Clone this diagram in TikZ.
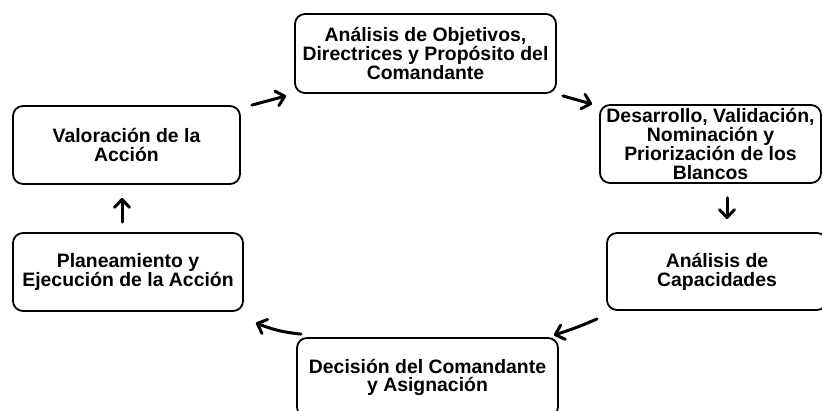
\documentclass[tikz,border=0pt]{standalone}
\usepackage{fontspec}
\setmainfont{Liberation Sans}
\usetikzlibrary{arrows.meta,calc}
\begin{document}
\begin{tikzpicture}[x=1pt,y=-1pt,
  box/.style={draw=black, line width=1.8pt, rounded corners=10pt, fill=white,
    align=center, inner sep=0pt,
    font=\fontsize{19.4}{18.8}\selectfont\bfseries},
  arr/.style={line width=3pt, line cap=round,
    -{Straight Barb[length=8pt,width=15pt,line cap=round,line join=round]}}]
\useasboundingbox (0,0) rectangle (822,410);
\clip (0,0) rectangle (822,410);
\fill[white] (0,0) rectangle (822,410);
\node[box, minimum width=261pt, minimum height=79pt] (top) at (425.5,53.5)
  {Análisis de Objetivos,\\Directrices y Propósito del\\Comandante};
\node[box, minimum width=221pt, minimum height=78pt] (des) at (710.5,144)
  {Desarrollo, Validación,\\Nominación y\\Priorización de los\\Blancos};
\node[box, minimum width=220pt, minimum height=77pt] (anal) at (717,271.5)
  {Análisis de\\Capacidades};
\node[box, minimum width=261pt, minimum height=79pt] (dec) at (427.5,377.5)
  {Decisión del Comandante\\y Asignación};
\node[box, minimum width=230pt, minimum height=78pt] (plan) at (128,272)
  {Planeamiento y\\Ejecución de la Acción};
\node[box, minimum width=227pt, minimum height=78pt] (val) at (126.5,145)
  {Valoración de la\\Acción};
\draw[arr] ([shift={(11,0)}]val.north east) -- ([shift={(-8,2)}]top.south west);
\draw[arr] ([shift={(6,2)}]top.south east) -- ([shift={(-7,0)}]des.north west);
\draw[arr] ([shift={(16.5,14)}]des.south) -- ([shift={(10,-13)}]anal.north);
\draw[arr] ([shift={(-9,8)}]anal.south west) to[bend left=3] ([shift={(-5,-2)}]dec.north east);
\draw[arr] ([shift={(5,-3)}]dec.north west) to[bend left=8] ([shift={(12,11)}]plan.south east);
\draw[arr] ([shift={(-6,-10)}]plan.north) -- ([shift={(-4.5,13)}]val.south);
\end{tikzpicture}
\end{document}
